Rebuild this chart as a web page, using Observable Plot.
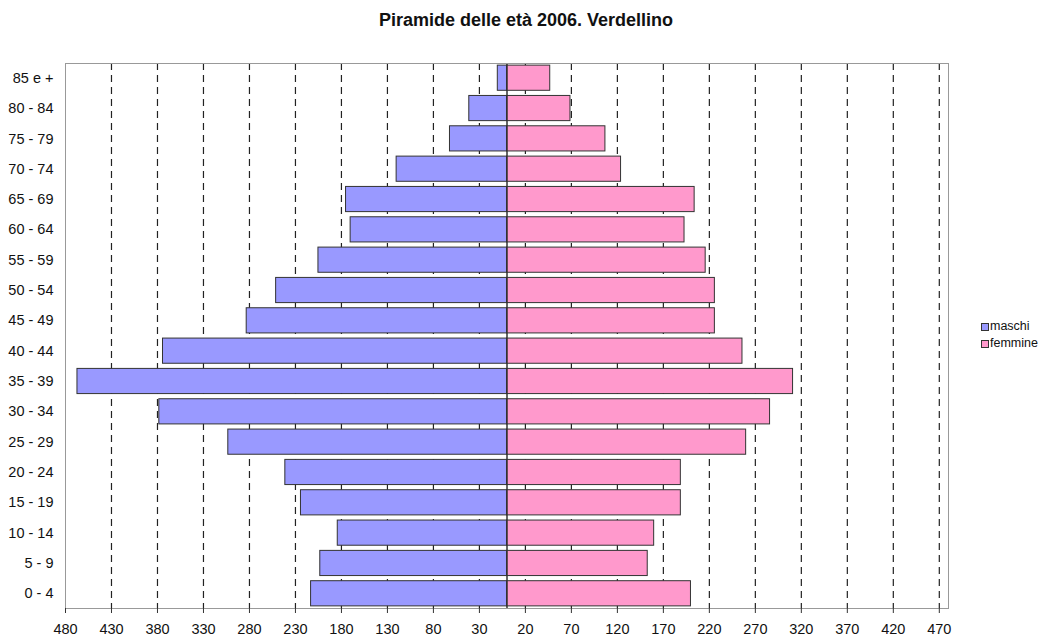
<!DOCTYPE html>
<html>
<head>
<meta charset="utf-8">
<script src="https://cdn.jsdelivr.net/npm/d3@7"></script>
<script src="https://cdn.jsdelivr.net/npm/@observablehq/plot@0.6"></script>
<style>
  body { margin: 0; background: #fff; font-family: "Liberation Sans", Arial, sans-serif; }
  #wrap { position: relative; width: 1052px; height: 637px; }
  #title { height: 40px; line-height: 40px; text-align: center; font-weight: bold; font-size: 18px; color: #111; }
  #legend { position: absolute; left: 981px; top: 318px; font-size: 12.5px; color: #111; }
  .item { height: 17px; line-height: 17px; display: flex; align-items: center; }
  .sw { width: 6px; height: 6px; border: 1px solid #333; margin-right: 1px; }
</style>
</head>
<body>
<div id="wrap">
  <div id="title">Piramide delle età 2006. Verdellino</div>
  <div id="chart"></div>
  <div id="legend"></div>
</div>
<script>
const ages = ["0 - 4","5 - 9","10 - 14","15 - 19","20 - 24","25 - 29","30 - 34","35 - 39","40 - 44","45 - 49","50 - 54","55 - 59","60 - 64","65 - 69","70 - 74","75 - 79","80 - 84","85 e +"];
const maschi = [213, 203, 184, 224, 241, 303, 378, 467, 374, 283, 251, 205, 170, 175, 120, 62, 41, 10];
const femmine = [200, 153, 160, 189, 189, 260, 286, 311, 256, 226, 226, 216, 193, 204, 124, 107, 69, 47];
const xTicks = d3.range(-480, 471, 50);
const seriesNames = ["maschi", "femmine"];
const seriesColors = ["#9999ff", "#ff99cc"];

const male = ages.map((a, i) => ({age: a, value: maschi[i]}));
const female = ages.map((a, i) => ({age: a, value: femmine[i]}));

const plot = Plot.plot({
  width: 1052,
  height: 597,
  marginTop: 23,
  marginBottom: 29,
  marginLeft: 65,
  marginRight: 104,
  style: {fontFamily: "'Liberation Sans', Arial, sans-serif", color: "#111", background: "#fff"},
  x: {domain: [-480, 480], ticks: xTicks, tickFormat: d => Math.abs(d)},
  y: {domain: ages.slice().reverse(), paddingInner: 0.17, paddingOuter: 0.07, round: false},
  marks: [
    Plot.ruleX(xTicks.filter(d => d > -480), {stroke: "#222", strokeWidth: 1.2, strokeDasharray: "7,5"}),
    Plot.barX(male, {x1: 0, x2: d => -d.value, y: "age", fill: seriesColors[0], stroke: "#333", strokeWidth: 1}),
    Plot.barX(female, {x1: 0, x2: "value", y: "age", fill: seriesColors[1], stroke: "#333", strokeWidth: 1}),
    Plot.ruleX([0], {stroke: "#333", strokeWidth: 1.5}),
    Plot.frame({stroke: "#999"}),
    Plot.axisX({ticks: xTicks, tickFormat: d => Math.abs(d), tickSize: 5, tickPadding: 10, fontSize: 14.5, stroke: "#333", label: null}),
    Plot.axisY({tickSize: 0, tickPadding: 12, fontSize: 14.5, label: null})
  ]
});
document.getElementById("chart").appendChild(plot);

const legend = document.getElementById("legend");
seriesNames.forEach((n, i) => {
  const row = document.createElement("div");
  row.className = "item";
  const sw = document.createElement("span");
  sw.className = "sw";
  sw.style.background = seriesColors[i];
  const t = document.createElement("span");
  t.textContent = n;
  row.appendChild(sw);
  row.appendChild(t);
  legend.appendChild(row);
});
</script>
</body>
</html>
